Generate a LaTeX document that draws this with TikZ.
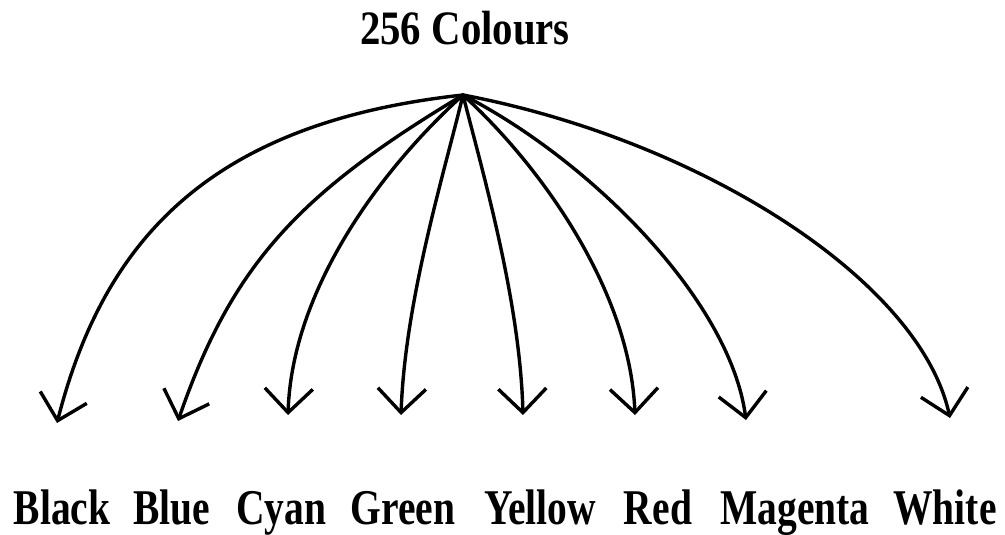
\documentclass[tikz,border=0pt]{standalone}
\usepackage{fontspec}
\setmainfont{Liberation Serif}
\usetikzlibrary{arrows.meta}
\newcommand{\narrowtext}[2]{\scalebox{#1}[1]{#2}}
\begin{document}
\begin{tikzpicture}[x=1pt,y=-1pt,
  branch/.style={line width=3.4pt, line cap=round, line join=round,
    -{Straight Barb[length=24pt,width=48pt,line width=3.4pt]}},
  colourname/.style={anchor=base, inner sep=0pt,
    font=\fontsize{50}{50}\selectfont\bfseries},
  heading/.style={anchor=base, inner sep=0pt,
    font=\fontsize{48}{48}\selectfont\bfseries}]
  \useasboundingbox (0,0) rectangle (1005,535);

  % title and the common starting point of all branches
  \node[heading] (title) at (465,45) {\narrowtext{0.85}{256 Colours}};
  \coordinate (hub) at (463,95);

  % colour names along the bottom
  \node[colourname] (black)   at (62,524)  {\narrowtext{0.79}{Black}};
  \node[colourname] (blue)    at (172,524) {\narrowtext{0.79}{Blue}};
  \node[colourname] (cyan)    at (281,524) {\narrowtext{0.79}{Cyan}};
  \node[colourname] (green)   at (403,524) {\narrowtext{0.79}{Green}};
  \node[colourname] (yellow)  at (540,524) {\narrowtext{0.79}{Yellow}};
  \node[colourname] (red)     at (658,524) {\narrowtext{0.79}{Red}};
  \node[colourname] (magenta) at (795,524) {\narrowtext{0.79}{Magenta}};
  \node[colourname] (white)   at (945,524) {\narrowtext{0.79}{White}};

  % arrow tips above each name
  \coordinate (tBlack)   at (57,423);
  \coordinate (tBlue)    at (178,421);
  \coordinate (tCyan)    at (288,415);
  \coordinate (tGreen)   at (401,415);
  \coordinate (tYellow)  at (523,415);
  \coordinate (tRed)     at (635,415);
  \coordinate (tMagenta) at (746,420);
  \coordinate (tWhite)   at (950,418);

  % curved branches fanning out from the hub
  \draw[branch] (hub) .. controls (215,122) and (105,235) .. (tBlack);
  \draw[branch] (hub) .. controls (303,191) and (233,261) .. (tBlue);
  \draw[branch] (hub) .. controls (380,170) and (292,290) .. (tCyan);
  \draw[branch] (hub) .. controls (445,170) and (405,300) .. (tGreen);
  \draw[branch] (hub) .. controls (482,170) and (520,300) .. (tYellow);
  \draw[branch] (hub) .. controls (540,165) and (630,290) .. (tRed);
  \draw[branch] (hub) .. controls (590,160) and (730,300) .. (tMagenta);
  \draw[branch] (hub) .. controls (700,140) and (920,280) .. (tWhite);
\end{tikzpicture}
\end{document}
